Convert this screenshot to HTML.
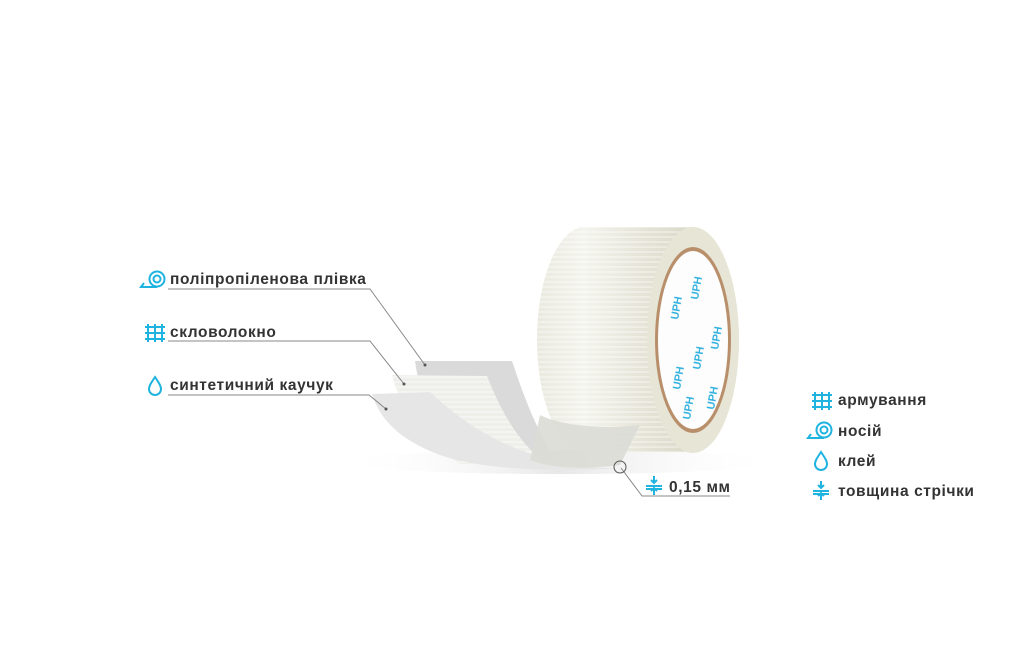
<!DOCTYPE html>
<html><head><meta charset="utf-8"><style>
body{margin:0;background:#fff;width:1024px;height:671px;overflow:hidden;font-family:"Liberation Sans","DejaVu Sans",sans-serif}
svg{position:absolute;left:0;top:0}
</style></head><body>
<svg width="1024" height="671" viewBox="0 0 1024 671" xmlns="http://www.w3.org/2000/svg">
<defs>
<linearGradient id="body" x1="0" y1="0" x2="1" y2="0">
<stop offset="0" stop-color="#e9e9df"/><stop offset="0.3" stop-color="#f4f4ee"/><stop offset="0.7" stop-color="#e4e3d6"/><stop offset="1" stop-color="#d9d8c8"/></linearGradient>
<linearGradient id="shadow" x1="0" y1="0" x2="1" y2="0">
<stop offset="0" stop-color="#fff" stop-opacity="0"/><stop offset="0.5" stop-color="#ddd"/><stop offset="1" stop-color="#fff" stop-opacity="0"/></linearGradient>
<pattern id="fib" width="6" height="5" patternUnits="userSpaceOnUse"><rect width="6" height="5" fill="none"/><line x1="0" y1="2" x2="6" y2="2" stroke="#fff" stroke-opacity="0.7" stroke-width="1"/></pattern>
</defs>
<ellipse cx="560" cy="462" rx="220" ry="12" fill="url(#shadow)" opacity="0.7"/>
<path d="M415 361 L512 361 C525 400 540 440 560 462 L470 462 C440 440 420 400 415 361 Z" fill="#dadada"/>
<path d="M392 375 L487 376 C500 410 520 445 545 462 L460 464 C430 440 400 410 392 375 Z" fill="#efefea"/>
<path d="M392 375 L487 376 C500 410 520 445 545 462 L460 464 C430 440 400 410 392 375 Z" fill="url(#fib)"/>
<path d="M372 394 L430 392 C470 430 520 460 600 468 L620 468 C560 472 480 470 440 455 C400 440 380 420 372 394 Z" fill="#e6e6e6"/>
<path d="M585 227 L693 227 L693 452 L585 452 A48 112.5 0 0 1 585 227 Z" fill="url(#body)"/>
<path d="M585 227 L693 227 L693 452 L585 452 A48 112.5 0 0 1 585 227 Z" fill="url(#fib)"/>
<path d="M540 415 C560 425 600 430 640 425 L620 465 C580 470 550 468 530 460 Z" fill="#dcdcd6" opacity="0.9"/>
<ellipse cx="693" cy="340" rx="46" ry="113" fill="#e6e5d6"/>
<ellipse cx="693" cy="340" rx="38" ry="93" fill="#b88f6a"/>
<ellipse cx="693" cy="340" rx="35" ry="89" fill="#fdfdfd"/>
<g fill="#35b3e0" font-size="11" font-weight="bold">
<text transform="translate(678 320) rotate(-80)">UPH</text>
<text transform="translate(698 300) rotate(-80)">UPH</text>
<text transform="translate(680 390) rotate(-80)">UPH</text>
<text transform="translate(700 370) rotate(-80)">UPH</text>
<text transform="translate(718 350) rotate(-80)">UPH</text>
<text transform="translate(690 420) rotate(-80)">UPH</text>
<text transform="translate(714 410) rotate(-80)">UPH</text>
</g>
<g stroke="#888" stroke-width="1" fill="none">
<polyline points="168,289 370,289 425,365"/>
<polyline points="168,341 370,341 404,384"/>
<polyline points="168,395 369,395 386,409"/>
<polyline points="621,468 642,496 730,496"/>
</g>
<circle cx="425" cy="365" r="1.5" fill="#555"/><circle cx="404" cy="384" r="1.5" fill="#555"/><circle cx="386" cy="409" r="1.5" fill="#555"/>
<circle cx="620" cy="467" r="6" fill="none" stroke="#555" stroke-width="1"/>
<g stroke="#1fb3e0" stroke-width="2" fill="none">
<circle cx="157" cy="279" r="7.5"/><circle cx="157" cy="279" r="3.5"/><path d="M157 287 L141 287 L144 283"/>
<path d="M148 324 V342 M155 324 V342 M162 324 V342 M145 327 H165 M145 333 H165 M145 339 H165"/>
<path d="M155 377 C151 383 149 386 149 389 A6 6 0 0 0 161 389 C161 386 159 383 155 377 Z"/>
<path d="M815 392 V410 M822 392 V410 M829 392 V410 M812 395 H832 M812 401 H832 M812 407 H832"/>
<circle cx="824" cy="430" r="7.5"/><circle cx="824" cy="430" r="3.5"/><path d="M824 438 L808 438 L811 434"/>
<path d="M821 452 C817 458 815 461 815 464 A6 6 0 0 0 827 464 C827 461 825 458 821 452 Z"/>
<path d="M821 481 V488 M818 485 L821 488 L824 485 M821 500 V493 M818 496 L821 493 L824 496 M813 491 H829 M813 494 H829"/>
<path d="M654 476 V483 M651 480 L654 483 L657 480 M654 495 V488 M651 491 L654 488 L657 491 M646 486 H662 M646 489 H662"/>
</g>
<g fill="#333" font-weight="bold" font-size="15.5" letter-spacing="0.6">
<text x="170" y="284">поліпропіленова плівка</text>
<text x="170" y="337">скловолокно</text>
<text x="170" y="390">синтетичний каучук</text>
<text x="669" y="492">0,15 мм</text>
<text x="838" y="405">армування</text>
<text x="838" y="436">носій</text>
<text x="838" y="466">клей</text>
<text x="838" y="496">товщина стрічки</text>
</g>
</svg>
</body></html>
